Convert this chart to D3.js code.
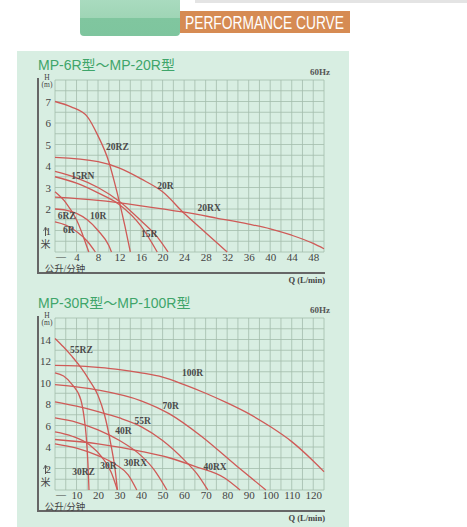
<!DOCTYPE html>
<html>
<head>
<meta charset="utf-8">
<script src="https://cdn.jsdelivr.net/npm/d3@7"></script>
<style>
  body { margin: 0; background: #fff; }
  svg { display: block; }
</style>
</head>
<body>
<svg width="467" height="527"></svg>
<script>
// ---- chart 1 : MP-6R ~ MP-20R  (Q in L/min, H in m) ----
const smallTitle = "MP-6R型～MP-20R型";
const smallQTicks = [4, 8, 12, 16, 20, 24, 28, 32, 36, 40, 44, 48];
const smallHTicks = [1, 2, 3, 4, 5, 6, 7];
const small6R   = [[0, 1.4], [2, 1.25], [4, 0.95], [6, 0.5], [7.5, 0]];
const small6RZ  = [[0, 2.8], [2, 2.3], [4, 1.5], [5, 0.9], [6, 0.2], [6.3, 0]];
const small10R  = [[0, 2.0], [2, 1.95], [4, 1.8], [6, 1.5], [8, 1.0], [10, 0.3], [10.5, 0]];
const small15R  = [[0, 3.5], [4, 3.2], [8, 2.75], [12, 2.2], [16, 1.2], [19, 0]];
const small15RN = [[0, 3.75], [4, 3.45], [8, 3.0], [12, 2.35], [16, 1.45], [19, 0.7], [21, 0]];
const small20R  = [[0, 4.4], [8, 4.2], [12, 3.9], [16, 3.4], [20, 2.8], [24, 1.8], [28, 0.9], [32, 0]];
const small20RX = [[0, 2.55], [8, 2.4], [16, 2.15], [24, 1.85], [30, 1.58], [36, 1.3], [40, 1.08], [44, 0.78], [48, 0.4], [50, 0.15]];
const small20RZ = [[0, 7.0], [3, 6.75], [6, 6.3], [8, 5.4], [10, 4.2], [11, 3.3], [12, 2.3], [13, 1.2], [14, 0]];
const smallNames  = ["6R", "6RZ", "10R", "15R", "15RN", "20R", "20RX", "20RZ"];
const smallSeries = [small6R, small6RZ, small10R, small15R, small15RN, small20R, small20RX, small20RZ];
// where each model name is written, in chart units
const smallLabelAt = [[1.5, 0.9], [0.5, 1.55], [6.5, 1.55], [16, 0.7], [3, 3.4], [19, 2.95], [26.5, 1.9], [9.5, 4.75]];

// ---- chart 2 : MP-30R ~ MP-100R ----
const bigTitle = "MP-30R型～MP-100R型";
const bigQTicks = [10, 20, 30, 40, 50, 60, 70, 80, 90, 100, 110, 120];
const bigHTicks = [2, 4, 6, 8, 10, 12, 14];
const big30R   = [[0, 5.4], [8, 5.0], [16, 4.2], [22, 3.0], [26, 1.7], [29, 0]];
const big30RX  = [[0, 4.3], [10, 3.9], [20, 3.2], [28, 2.4], [34, 1.4], [38, 0]];
const big30RZ  = [[0, 10.9], [4, 10.6], [8, 9.8], [12, 8.4], [13.5, 6.8], [14.5, 5.0], [15.3, 2.5], [15.8, 0]];
const big40R   = [[0, 6.7], [10, 6.3], [20, 5.6], [30, 4.6], [40, 3.2], [46, 1.9], [52, 0]];
const big40RX  = [[0, 4.7], [20, 4.3], [40, 3.6], [53, 3.0], [65, 2.2], [79, 1.1], [86, 0]];
const big55R   = [[0, 8.2], [10, 7.8], [20, 7.3], [30, 6.7], [40, 5.9], [50, 4.6], [60, 2.8], [66, 1.5], [71, 0]];
const big55RZ  = [[0, 14.1], [4, 13.3], [8, 12.4], [12, 11.4], [16, 10.2], [20, 8.8], [23, 7.0], [26, 4.2], [28, 1.8], [29, 0]];
const big70R   = [[0, 9.8], [20, 9.3], [40, 8.3], [53, 7.1], [68, 5.0], [84, 2.3], [98, 0]];
const big100R  = [[0, 11.6], [10, 11.55], [20, 11.4], [30, 11.2], [40, 10.9], [50, 10.5], [60, 9.8], [70, 9.0], [80, 8.1], [90, 7.1], [100, 5.9], [110, 4.5], [120, 2.7], [125, 1.7]];
const bigNames  = ["30R", "30RX", "30RZ", "40R", "40RX", "55R", "55RZ", "70R", "100R"];
const bigSeries = [big30R, big30RX, big30RZ, big40R, big40RX, big55R, big55RZ, big70R, big100R];
const bigLabelAt = [[21, 2.0], [32, 2.2], [8, 1.4], [28, 5.2], [69, 1.9], [37, 6.1], [7, 12.7], [50, 7.5], [59, 10.6]];

const svg = d3.select("svg");

// ---- header strip ----
const defs = svg.append("defs");
const grad = defs.append("linearGradient").attr("id", "blk").attr("x1", 0).attr("y1", 0).attr("x2", 0).attr("y2", 1);
grad.append("stop").attr("offset", "0%").attr("stop-color", "#abdcc1");
grad.append("stop").attr("offset", "55%").attr("stop-color", "#9fd5b6");
grad.append("stop").attr("offset", "56%").attr("stop-color", "#80c69f");
grad.append("stop").attr("offset", "100%").attr("stop-color", "#7ec59e");

svg.append("rect").attr("x", 195).attr("y", 0).attr("width", 272).attr("height", 3).attr("fill", "#e4e4e4");
svg.append("rect").attr("x", 80).attr("y", -4).attr("width", 100).attr("height", 40).attr("rx", 4).attr("fill", "url(#blk)");
svg.append("rect").attr("x", 180).attr("y", 11).attr("width", 170).attr("height", 22).attr("fill", "#d68b53");
svg.append("text").attr("x", 185).attr("y", 29)
   .attr("textLength", 159).attr("lengthAdjust", "spacingAndGlyphs")
   .style("font-family", "Liberation Sans, Arial, sans-serif").style("font-size", "18px")
   .style("fill", "#fff").text("PERFORMANCE CURVE");

// ---- green panel ----
svg.append("rect").attr("x", 17).attr("y", 51).attr("width", 332).attr("height", 476).attr("fill", "#d8eee2");

const drawChart = (top, xMax, xStep, yMax, yStep, xTicks, yTicks, series, names, labelAt, title) => {
    const area = { left: 55, right: 324, top: top, bottom: top + 172 };

    const scX = d3.scaleLinear().domain([0, xMax]).range([area.left, area.right]);
    const scY = d3.scaleLinear().domain([0, yMax]).range([area.bottom, area.top]);

    const g = svg.append("g");

    // title and frequency
    g.append("text").attr("x", 38).attr("y", top - 10.5)
     .style("font-family", "Liberation Sans, 'Noto Sans CJK SC', sans-serif").style("font-size", "14px")
     .style("fill", "#3fa56a").text(title);
    g.append("text").attr("x", 330).attr("y", top - 5).attr("text-anchor", "end")
     .style("font-family", "Liberation Serif, serif").style("font-size", "9px").style("font-weight", "bold")
     .style("fill", "#555").text("60Hz");

    // grid
    g.selectAll(".vx").data(d3.range(0, xMax + xStep / 2, xStep)).enter().append("line")
     .attr("x1", d => scX(d)).attr("x2", d => scX(d))
     .attr("y1", area.top).attr("y2", area.bottom)
     .attr("stroke", "#a3bcac").attr("stroke-width", 0.8);
    g.selectAll(".hy").data(d3.range(0, yMax + yStep / 2, yStep)).enter().append("line")
     .attr("x1", area.left).attr("x2", area.right)
     .attr("y1", d => scY(d)).attr("y2", d => scY(d))
     .attr("stroke", "#a3bcac").attr("stroke-width", 0.8);

    // tick labels
    const axY = g.append("g").attr("transform", `translate(${area.left},0)`)
                 .call(d3.axisLeft(scY).tickValues(yTicks).tickSize(0).tickPadding(4));
    const axX = g.append("g").attr("transform", `translate(0,${area.bottom})`)
                 .call(d3.axisBottom(scX).tickValues(xTicks).tickSize(0).tickPadding(1.5));
    [axX, axY].forEach(ax => {
        ax.select(".domain").remove();
        ax.selectAll("text").style("font-family", "Liberation Serif, serif").style("font-size", "11px")
          .style("fill", "#444");
    });

    // frame lines
    g.append("line").attr("x1", 38).attr("x2", 38).attr("y1", area.top - 2).attr("y2", area.bottom + 21)
     .attr("stroke", "#666").attr("stroke-width", 2);
    g.append("line").attr("x1", 37).attr("x2", area.right + 1).attr("y1", area.bottom + 21).attr("y2", area.bottom + 21)
     .attr("stroke", "#666").attr("stroke-width", 2);

    // axis captions
    const small = (x, y, t, size, anchor) => g.append("text").attr("x", x).attr("y", y)
        .attr("text-anchor", anchor || "middle")
        .style("font-family", "Liberation Serif, 'Noto Sans CJK SC', serif").style("font-size", size + "px")
        .style("fill", "#444").text(t);
    small(47, area.top - 0.5, "H", 7.5);
    small(47, area.top + 7, "(m)", 7.5);
    small(61, area.bottom + 8, "—", 10);
    small(65, area.bottom + 19.5, "公升/分钟", 9.5);
    small(45.5, area.bottom - 4, "米", 10);
    g.append("line").attr("x1", 45.5).attr("x2", 45.5).attr("y1", area.bottom - 24).attr("y2", area.bottom - 16)
     .attr("stroke", "#555").attr("stroke-width", 1);
    g.append("path").attr("d", `M43.5,${area.bottom - 21}L45.5,${area.bottom - 25}L47.5,${area.bottom - 21}`)
     .attr("fill", "none").attr("stroke", "#555").attr("stroke-width", 0.8);
    small(area.right + 1, area.bottom + 31, "Q (L/min)", 8.5, "end").style("font-weight", "bold");

    // curves
    const line = d3.line().x(d => scX(d[0])).y(d => scY(d[1])).curve(d3.curveMonotoneX);
    g.selectAll(".curve").data(series).enter().append("path")
     .attr("d", line).attr("fill", "none").attr("stroke", "#cf5a57").attr("stroke-width", 1.3);

    g.selectAll(".lbl").data(names).enter().append("text")
     .attr("x", (d, i) => scX(labelAt[i][0])).attr("y", (d, i) => scY(labelAt[i][1]))
     .style("font-family", "Liberation Serif, serif").style("font-size", "9.5px").style("font-weight", "bold")
     .style("fill", "#4a4a4a").text(d => d);
}

drawChart(80, 50, 2, 8, 0.5, smallQTicks, smallHTicks, smallSeries, smallNames, smallLabelAt, smallTitle);
drawChart(318, 125, 5, 16, 1, bigQTicks, bigHTicks, bigSeries, bigNames, bigLabelAt, bigTitle);
</script>
</body>
</html>
